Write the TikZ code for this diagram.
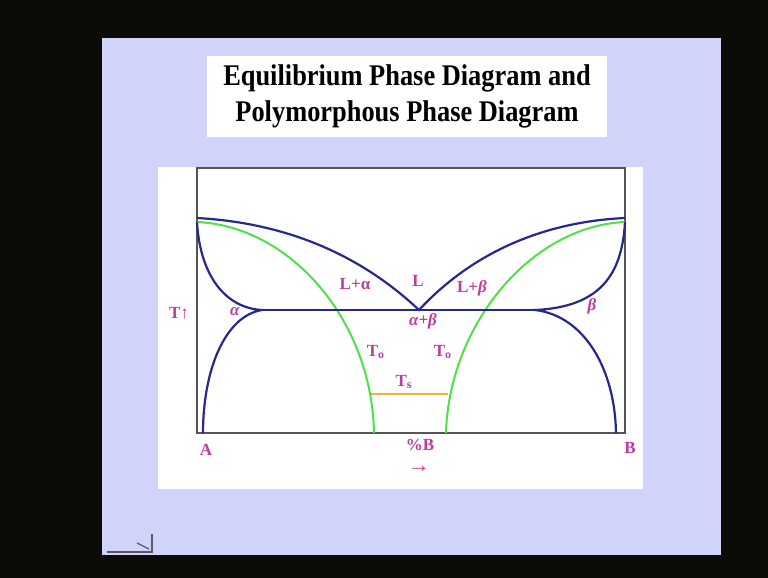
\documentclass[tikz,border=0pt]{standalone}
\usepackage{fontspec}
\setmainfont{Liberation Serif}
\newfontfamily\titlefont[FakeStretch=0.88]{Liberation Serif}
\usetikzlibrary{positioning}
\definecolor{slidebg}{RGB}{208,212,250}
\definecolor{curveblue}{RGB}{40,40,140}
\definecolor{tzero}{RGB}{80,225,70}
\definecolor{tsline}{RGB}{240,180,60}
\definecolor{lblpink}{RGB}{190,60,160}
\definecolor{framegray}{RGB}{85,85,85}
\definecolor{screen}{RGB}{12,11,8}

\begin{document}
\begin{tikzpicture}[x=0.5pt, y=-0.5pt,
  phase/.style={draw=curveblue, line width=1.1pt},
  tzerocurve/.style={draw=tzero, line width=1pt},
  lbl/.style={text=lblpink, font=\fontsize{8.5}{9}\selectfont\bfseries, inner sep=0pt},
  titlebox/.style={fill=white, minimum width=200pt, minimum height=40.5pt, align=center, inner sep=0pt,
    font=\titlefont\fontsize{15}{18}\selectfont\bfseries},
]
\useasboundingbox (0,0) rectangle (768,578);

% === SLIDE ===
\fill[screen] (0,0) rectangle (768,578);
\fill[slidebg] (102,38) rectangle (721,555);
\node[titlebox] (title) at (407,96.5) {Equilibrium Phase Diagram and\\Polymorphous Phase Diagram};
\fill[white] (158,167) rectangle (643,489);
\draw[gray!70!black, line width=0.6pt] (107,552) -- (152,552) -- (152,534);
\draw[gray!70!black, line width=0.6pt] (137,543) -- (149,549);

% === PHASE DIAGRAM ===
\coordinate (TmA) at (197,218);
\coordinate (TmB) at (625,218);
\coordinate (eut) at (419,310);
\coordinate (cuspA) at (262,310);
\coordinate (cuspB) at (535,310);

\draw[framegray, line width=0.7pt] (197,168) rectangle (625,433);

\draw[tzerocurve] (197,222) .. controls (290,226) and (372,320) .. (374,433);
\draw[tzerocurve] (625,222) .. controls (531,226) and (449,325) .. (446,433);
\draw[tsline, line width=0.8pt] (371,394) -- (448,394);

\draw[phase] (TmA) .. controls (270,222) and (350,245) .. (eut) .. controls (470,255) and (540,222) .. (TmB);
\draw[phase] (197,222) .. controls (200,275) and (225,308) .. (cuspA) .. controls (225,316) and (203,370) .. (203,433);
\draw[phase] (625,222) .. controls (622,275) and (600,307) .. (cuspB) .. controls (585,316) and (615,370) .. (616,433);
\draw[phase] (cuspA) -- (cuspB);

% labels
\node[lbl] (la) at (355,284) {L+α};
\node[lbl] (lq) at (418,281) {L};
\node[lbl] (lb) at (472,288) {L+\textit{β}};
\node[lbl] (al) at (235,312) {\textit{α}};
\node[lbl] (be) at (592,306) {\textit{β}};
\node[lbl] (ab) at (423,321) {\textit{α+β}};
\node[lbl] (t0a) at (376,352) {T\textsubscript{o}};
\node[lbl] (t0b) at (443,352) {T\textsubscript{o}};
\node[lbl] (ts) at (404,382) {T\textsubscript{s}};
\node[lbl] (temp) at (179,313) {T↑};
\node[lbl] (pa) at (206,450) {A};
\node[lbl] (pb) at (630,448) {B};
\node[lbl] (comp) at (420,445) {\%B};
\node[lbl, font=\fontsize{11}{11}\selectfont\bfseries, text height=4pt, text depth=0pt] (dir) at (419,469) {→};
\end{tikzpicture}
\end{document}
